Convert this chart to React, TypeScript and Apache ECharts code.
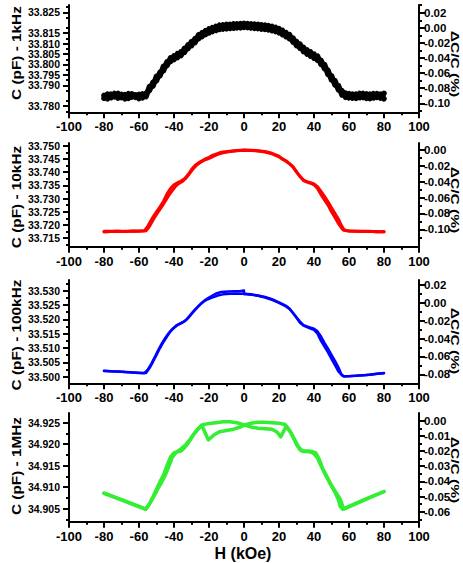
import React, { useEffect, useRef } from 'react';
import * as echarts from 'echarts';

// ---------- DATA ----------
// H grid (kOe) for the 1 kHz sweep
const H_1K = [-80,-78,-76,-74,-72,-70,-68,-66,-64,-62,-60,-58,-56,-54,-52,-50,-48,-46,-44,-42,-40,-38,-36,-34,-32,-30,-28,-26,-24,-22,-20,-18,-16,-14,-12,-10,-8,-6,-4,-2,0,2,4,6,8,10,12,14,16,18,20,22,24,26,28,30,32,34,36,38,40,42,44,46,48,50,52,54,56,58,60,62,64,66,68,70,72,74,76,78,80];
// C (pF) at 1 kHz, two sweep directions
const C_1K_UP = [33.7852,33.7836,33.7858,33.7845,33.7861,33.7841,33.7856,33.7838,33.7859,33.7843,33.7857,33.7840,33.7862,33.7876,33.7915,33.7922,33.7963,33.7970,33.8013,33.8014,33.8041,33.8033,33.8061,33.8058,33.8094,33.8090,33.8124,33.8123,33.8152,33.8143,33.8170,33.8158,33.8183,33.8168,33.8190,33.8171,33.8192,33.8174,33.8195,33.8176,33.8197,33.8177,33.8194,33.8173,33.8192,33.8170,33.8188,33.8166,33.8182,33.8158,33.8172,33.8143,33.8153,33.8123,33.8127,33.8090,33.8098,33.8062,33.8070,33.8040,33.8050,33.8020,33.8020,33.7980,33.7972,33.7926,33.7922,33.7878,33.7874,33.7843,33.7860,33.7839,33.7858,33.7841,33.7861,33.7838,33.7858,33.7840,33.7860,33.7839,33.7862];
const C_1K_DOWN = [33.7838,33.7858,33.7841,33.7861,33.7839,33.7857,33.7836,33.7860,33.7844,33.7855,33.7837,33.7859,33.7846,33.7895,33.7896,33.7944,33.7946,33.7992,33.7994,33.8032,33.8023,33.8052,33.8043,33.8078,33.8076,33.8110,33.8105,33.8142,33.8133,33.8162,33.8151,33.8177,33.8163,33.8188,33.8170,33.8192,33.8173,33.8194,33.8176,33.8196,33.8178,33.8195,33.8175,33.8193,33.8172,33.8190,33.8168,33.8186,33.8162,33.8178,33.8152,33.8163,33.8133,33.8143,33.8107,33.8110,33.8078,33.8082,33.8050,33.8060,33.8030,33.8040,33.8000,33.8000,33.7952,33.7946,33.7902,33.7898,33.7854,33.7863,33.7840,33.7858,33.7838,33.7861,33.7842,33.7859,33.7837,33.7860,33.7843,33.7858,33.7836];

// 10 kHz: [H (kOe), C (pF)]
const C_10K_UP: [number, number][] = [[-80,33.7174],[-76,33.7175],[-72,33.7175],[-68,33.7176],[-64,33.7176],[-60,33.7177],[-57,33.7178],[-55,33.7195],[-52,33.7230],[-50,33.7250],[-48,33.7269],[-46,33.7290],[-44,33.7318],[-42,33.7338],[-40,33.7352],[-38,33.7360],[-36,33.7366],[-34,33.7375],[-32,33.7390],[-30,33.7410],[-28,33.7425],[-26,33.7435],[-24,33.7443],[-22,33.7450],[-20,33.7456],[-18,33.7463],[-16,33.7468],[-14,33.7473],[-12,33.7476],[-8,33.7479],[-4,33.7482],[0,33.7484],[4,33.7483],[8,33.7481],[12,33.7478],[16,33.7471],[20,33.7460],[22,33.7450],[24,33.7443],[26,33.7432],[28,33.7421],[30,33.7402],[32,33.7383],[34,33.7368],[36,33.7362],[38,33.7358],[40,33.7352],[42,33.7338],[44,33.7315],[46,33.7295],[48,33.7275],[50,33.7250],[52,33.7228],[54,33.7205],[56,33.7186],[57,33.7180],[60,33.7177],[64,33.7176],[68,33.7176],[72,33.7175],[76,33.7175],[80,33.7174]];
const C_10K_DOWN: [number, number][] = [[-80,33.7176],[-76,33.7176],[-72,33.7177],[-68,33.7175],[-64,33.7177],[-60,33.7176],[-56,33.7178],[-54,33.7195],[-51,33.7230],[-49,33.7250],[-47,33.7269],[-45,33.7290],[-43,33.7312],[-41,33.7330],[-39,33.7347],[-37,33.7358],[-35,33.7366],[-33,33.7378],[-31,33.7395],[-29,33.7413],[-27,33.7427],[-25,33.7436],[-23,33.7444],[-21,33.7449],[-19,33.7455],[-17,33.7461],[-15,33.7467],[-12,33.7473],[-8,33.7478],[-4,33.7481],[0,33.7483],[4,33.7482],[8,33.7480],[12,33.7476],[16,33.7469],[20,33.7458],[22,33.7449],[24,33.7441],[26,33.7431],[28,33.7419],[30,33.7400],[32,33.7384],[34,33.7370],[36,33.7364],[38,33.7360],[40,33.7355],[42,33.7345],[44,33.7327],[46,33.7308],[48,33.7288],[50,33.7265],[52,33.7243],[54,33.7222],[55.5,33.7200],[57,33.7184],[58,33.7180],[60,33.7177],[64,33.7176],[68,33.7175],[72,33.7176],[76,33.7174],[80,33.7175]];

// 100 kHz: [H (kOe), C (pF)]
const C_100K_MAIN: [number, number][] = [[-80,33.5021],[-76,33.5019],[-72,33.5018],[-68,33.5016],[-64,33.5015],[-60,33.5013],[-57,33.5012],[-55,33.5025],[-53,33.5045],[-51,33.5068],[-49,33.5093],[-47,33.5115],[-45,33.5135],[-43,33.5152],[-41,33.5166],[-39,33.5177],[-37,33.5184],[-35,33.5190],[-33,33.5198],[-31,33.5212],[-29,33.5227],[-27,33.5240],[-25,33.5252],[-23,33.5262],[-21,33.5269],[-19,33.5274],[-17,33.5278],[-15,33.5283],[-12,33.5287],[-8,33.5289],[-4,33.5290],[0,33.5289],[4,33.5287],[8,33.5283],[12,33.5278],[16,33.5270],[20,33.5259],[24,33.5247],[26,33.5238],[28,33.5222],[30,33.5205],[32,33.5188],[34,33.5178],[36,33.5173],[38,33.5168],[40,33.5163],[42,33.5150],[44,33.5125],[46,33.5105],[48,33.5085],[50,33.5062],[52,33.5040],[54,33.5018],[56,33.5004],[57,33.5002],[60,33.5002],[64,33.5003],[68,33.5005],[72,33.5007],[76,33.5010],[80,33.5012]];
const C_100K_RETURN_NEG: [number, number][] = [[-80,33.5020],[-70,33.5017],[-60,33.5014],[-56,33.5013],[-54,33.5030],[-52,33.5052],[-50,33.5076],[-48,33.5100],[-46,33.5121],[-44,33.5140],[-42,33.5158],[-40,33.5170],[-38,33.5180],[-36,33.5186],[-34,33.5193],[-32,33.5204],[-30,33.5219],[-28,33.5233],[-26,33.5246],[-24,33.5258],[-22,33.5268],[-20,33.5276],[-18,33.5283],[-16,33.5290],[-13,33.5295],[-9,33.5297],[-5,33.5298],[-2,33.5299],[0,33.5300],[0,33.5288]];
const C_100K_RETURN_POS: [number, number][] = [[0,33.5288],[4,33.5286],[8,33.5282],[12,33.5276],[16,33.5268],[20,33.5257],[24,33.5245],[26,33.5236],[28,33.5222],[30,33.5207],[32,33.5192],[34,33.5180],[36,33.5175],[38,33.5171],[40,33.5167],[42,33.5158],[44,33.5140],[46,33.5118],[48,33.5098],[50,33.5076],[52,33.5055],[54,33.5032],[55.5,33.5010],[57,33.5001],[60,33.5002],[70,33.5006],[80,33.5013]];

// 1 MHz: [H (kOe), C (pF)]
const C_1M_A: [number, number][] = [[-80,34.9086],[-68,34.9068],[-56,34.9049],[-54,34.9062],[-52,34.9078],[-50,34.9095],[-48,34.9113],[-46,34.9128],[-44,34.9150],[-42,34.9170],[-40,34.9180],[-38,34.9183],[-36,34.9184],[-34,34.9192],[-32,34.9202],[-30,34.9215],[-28,34.9227],[-26,34.9237],[-24,34.9245],[-20,34.9248],[-16,34.9250],[-12,34.9252],[-8,34.9252],[-4,34.9250],[0,34.9245],[4,34.9240],[8,34.9237],[12,34.9236],[16,34.9235],[19,34.9228],[21,34.9217],[24,34.9241],[26,34.9232],[28,34.9217],[30,34.9200],[32,34.9187],[34,34.9183],[36,34.9183],[38,34.9182],[40,34.9178],[42,34.9168],[44,34.9150],[46,34.9135],[48,34.9120],[50,34.9103],[52,34.9088],[54,34.9070],[55,34.9055],[56.5,34.9049],[68,34.9070],[80,34.9090]];
const C_1M_B: [number, number][] = [[-80,34.9086],[-68,34.9067],[-56.5,34.9049],[-55,34.9055],[-53,34.9068],[-51,34.9082],[-49,34.9098],[-47,34.9112],[-45,34.9128],[-43,34.9148],[-41,34.9170],[-39,34.9180],[-37,34.9186],[-35,34.9193],[-33,34.9200],[-31,34.9210],[-29,34.9222],[-27,34.9232],[-25,34.9240],[-24,34.9243],[-22,34.9225],[-20.4,34.9210],[-17,34.9222],[-14,34.9229],[-10,34.9232],[-6,34.9235],[-2,34.9240],[0,34.9244],[4,34.9249],[8,34.9251],[12,34.9251],[16,34.9250],[20,34.9249],[23.5,34.9246],[25,34.9238],[27,34.9225],[29,34.9210],[31,34.9195],[33,34.9185],[35,34.9184],[37,34.9184],[39,34.9183],[41,34.9180],[43,34.9165],[45,34.9142],[47,34.9125],[49,34.9110],[51,34.9098],[53,34.9085],[55,34.9072],[56.5,34.9055],[57,34.9049],[68,34.9069],[80,34.9090]];

// Tick values
const X_RANGE = [-100, 100];
const L_TICKS_1K = [33.780,33.785,33.790,33.795,33.800,33.805,33.810,33.815,33.820,33.825];
const L_MINOR_1K = [33.7775,33.7825,33.7875,33.7925,33.7975,33.8025,33.8075,33.8125,33.8175,33.8225,33.8275];
const R_TICKS_1K = [-0.10,-0.08,-0.06,-0.04,-0.02,0.00,0.02];
const R_MINOR_1K = [-0.11,-0.09,-0.07,-0.05,-0.03,-0.01,0.01,0.03];
const L_TICKS_10K = [33.715,33.720,33.725,33.730,33.735,33.740,33.745,33.750];
const L_MINOR_10K = [33.7125,33.7175,33.7225,33.7275,33.7325,33.7375,33.7425,33.7475];
const R_TICKS_10K = [-0.10,-0.08,-0.06,-0.04,-0.02,0.00];
const R_MINOR_10K = [-0.11,-0.09,-0.07,-0.05,-0.03,-0.01];
const L_TICKS_100K = [33.500,33.505,33.510,33.515,33.520,33.525,33.530];
const L_MINOR_100K = [33.5025,33.5075,33.5125,33.5175,33.5225,33.5275,33.5325];
const R_TICKS_100K = [-0.08,-0.06,-0.04,-0.02,0.00,0.02];
const R_MINOR_100K = [-0.07,-0.05,-0.03,-0.01,0.01];
const L_TICKS_1M = [34.905,34.910,34.915,34.920,34.925];
const L_MINOR_1M = [34.9025,34.9075,34.9125,34.9175,34.9225];
const R_TICKS_1M = [-0.06,-0.05,-0.04,-0.03,-0.02,-0.01,0.00];
const R_MINOR_1M = [-0.065,-0.055,-0.045,-0.035,-0.025,-0.015,-0.005];

const LEFT_TITLES = ['C (pF) - 1kHz', 'C (pF) - 10kHz', 'C (pF) - 100kHz', 'C (pF) - 1MHz'];
const RIGHT_TITLE = 'ΔC/C (%)';
const X_TITLE = 'H (kOe)';

// ---------- LAYOUT / STYLE ----------
const FONT = "'Liberation Sans', Arial, Helvetica, sans-serif";
const GRID_LEFT = 69;
const GRID_WIDTH = 350;

const PANELS = [
  { top: 5, height: 107.3, lMin: 33.7771, lMax: 33.8285, rMin: -0.1119, rMax: 0.0302,
    lTicks: L_TICKS_1K, lMinor: L_MINOR_1K, rTicks: R_TICKS_1K, rMinor: R_MINOR_1K, rDigits: 2, lTitleY: 53, rTitleY: 64 },
  { top: 143, height: 103.7, lMin: 33.7118, lMax: 33.7510, rMin: -0.1219, rMax: 0.0088,
    lTicks: L_TICKS_10K, lMinor: L_MINOR_10K, rTicks: R_TICKS_10K, rMinor: R_MINOR_10K, rDigits: 2, lTitleY: 197, rTitleY: 200 },
  { top: 280, height: 103.3, lMin: 33.4977, lMax: 33.5337, rMin: -0.0901, rMax: 0.0256,
    lTicks: L_TICKS_100K, lMinor: L_MINOR_100K, rTicks: R_TICKS_100K, rMinor: R_MINOR_100K, rDigits: 2, lTitleY: 335, rTitleY: 341 },
  { top: 413, height: 108.7, lMin: 34.90198, lMax: 34.92726, rMin: -0.0666, rMax: 0.0051,
    lTicks: L_TICKS_1M, lMinor: L_MINOR_1M, rTicks: R_TICKS_1M, rMinor: R_MINOR_1M, rDigits: 2, lTitleY: 466, rTitleY: 470 },
];

const SERIES_DEF = [
  { panel: 0, color: '#000000', width: 5.5, data: H_1K.map((h, i) => [h, C_1K_UP[i]]) },
  { panel: 0, color: '#000000', width: 5.5, data: H_1K.map((h, i) => [h, C_1K_DOWN[i]]) },
  { panel: 1, color: '#ff0000', width: 3, data: C_10K_UP },
  { panel: 1, color: '#ff0000', width: 3, data: C_10K_DOWN },
  { panel: 2, color: '#0000ff', width: 2.5, data: C_100K_MAIN },
  { panel: 2, color: '#0000ff', width: 2.5, data: C_100K_RETURN_NEG },
  { panel: 2, color: '#0000ff', width: 2.5, data: C_100K_RETURN_POS },
  { panel: 3, color: '#33ee33', width: 3.5, data: C_1M_A },
  { panel: 3, color: '#33ee33', width: 3.5, data: C_1M_B },
];

const AX_LINE = { color: '#000', width: 2 };

function buildOption() {
  const grid: any[] = [];
  const xAxis: any[] = [];
  const yAxis: any[] = [];
  const leftAxisIndex: number[] = [];

  PANELS.forEach((p, i) => {
    grid.push({ left: GRID_LEFT, width: GRID_WIDTH, top: p.top, height: p.height, containLabel: false });
    xAxis.push({
      type: 'value', gridIndex: i, min: X_RANGE[0], max: X_RANGE[1], interval: 20,
      axisLine: { show: true, onZero: false, lineStyle: AX_LINE },
      axisTick: { show: true, length: 6, lineStyle: AX_LINE },
      minorTick: { show: true, splitNumber: 2, length: 3, lineStyle: AX_LINE },
      splitLine: { show: false }, minorSplitLine: { show: false },
      axisLabel: { margin: 8, color: '#000', fontSize: 13, fontWeight: 'bold', fontFamily: FONT,
        showMinLabel: true, showMaxLabel: true },
    });
    // left main axis
    leftAxisIndex.push(yAxis.length);
    yAxis.push({
      type: 'value', gridIndex: i, position: 'left', min: p.lMin, max: p.lMax,
      axisLine: { show: true, onZero: false, lineStyle: AX_LINE },
      axisTick: { show: true, length: 6, lineStyle: AX_LINE, customValues: p.lTicks },
      axisLabel: { show: true, customValues: p.lTicks, margin: 9, color: '#000', fontSize: 10.5, fontWeight: 'bold', fontFamily: FONT,
        showMinLabel: true, showMaxLabel: true, hideOverlap: false, lineHeight: 9,
        formatter: (v: number) => v.toFixed(3) },
      splitLine: { show: false },
    });
    // left minor ticks
    yAxis.push({
      type: 'value', gridIndex: i, position: 'left', min: p.lMin, max: p.lMax,
      axisLine: { show: false, onZero: false },
      axisTick: { show: true, length: 3, lineStyle: AX_LINE, customValues: p.lMinor },
      axisLabel: { show: false },
      splitLine: { show: false },
    });
    // right main axis
    yAxis.push({
      type: 'value', gridIndex: i, position: 'right', min: p.rMin, max: p.rMax,
      axisLine: { show: true, onZero: false, lineStyle: AX_LINE },
      axisTick: { show: true, length: 6, lineStyle: AX_LINE, customValues: p.rTicks },
      axisLabel: { show: true, customValues: p.rTicks, margin: 5, color: '#000', fontSize: 11.5, fontWeight: 'bold', fontFamily: FONT,
        showMinLabel: true, showMaxLabel: true, hideOverlap: false, lineHeight: 11,
        formatter: (v: number) => v.toFixed(p.rDigits) },
      splitLine: { show: false },
    });
    // right minor ticks
    yAxis.push({
      type: 'value', gridIndex: i, position: 'right', min: p.rMin, max: p.rMax,
      axisLine: { show: false, onZero: false },
      axisTick: { show: true, length: 3, lineStyle: AX_LINE, customValues: p.rMinor },
      axisLabel: { show: false },
      splitLine: { show: false },
    });
  });

  const series = SERIES_DEF.map((s) => ({
    type: 'line',
    xAxisIndex: s.panel,
    yAxisIndex: leftAxisIndex[s.panel],
    data: s.data,
    showSymbol: false,
    symbol: 'none',
    smooth: false,
    silent: true,
    lineStyle: { color: s.color, width: s.width, join: 'round', cap: 'round' },
  }));

  const titleStyle = (text: string, size: number) => ({
    text, fontSize: size, fontWeight: 'bold', fontFamily: FONT, fill: '#000',
    textAlign: 'center', textVerticalAlign: 'middle', align: 'center', verticalAlign: 'middle',
  });

  const graphic: any[] = [];
  PANELS.forEach((p, i) => {
    graphic.push({ type: 'text', x: 17, y: p.lTitleY, rotation: Math.PI / 2, scaleX: 1.28, style: titleStyle(LEFT_TITLES[i], 12) });
    graphic.push({ type: 'text', x: 455, y: p.rTitleY, rotation: -Math.PI / 2, scaleX: 1.35, style: titleStyle(RIGHT_TITLE, 11.5) });
  });
  graphic.push({ type: 'text', x: 243, y: 553, style: titleStyle(X_TITLE, 16) });

  return {
    animation: false,
    backgroundColor: '#ffffff',
    grid, xAxis, yAxis, series, graphic,
  };
}

export default function App() {
  const ref = useRef<HTMLDivElement>(null);
  useEffect(() => {
    if (!ref.current) return;
    const chart = echarts.init(ref.current, null, { renderer: 'svg' });
    chart.setOption(buildOption() as any);
    return () => chart.dispose();
  }, []);
  return (
    <div
      ref={ref}
      style={{ position: 'fixed', left: 0, top: 0, width: 463, height: 563, background: '#fff' }}
    />
  );
}
